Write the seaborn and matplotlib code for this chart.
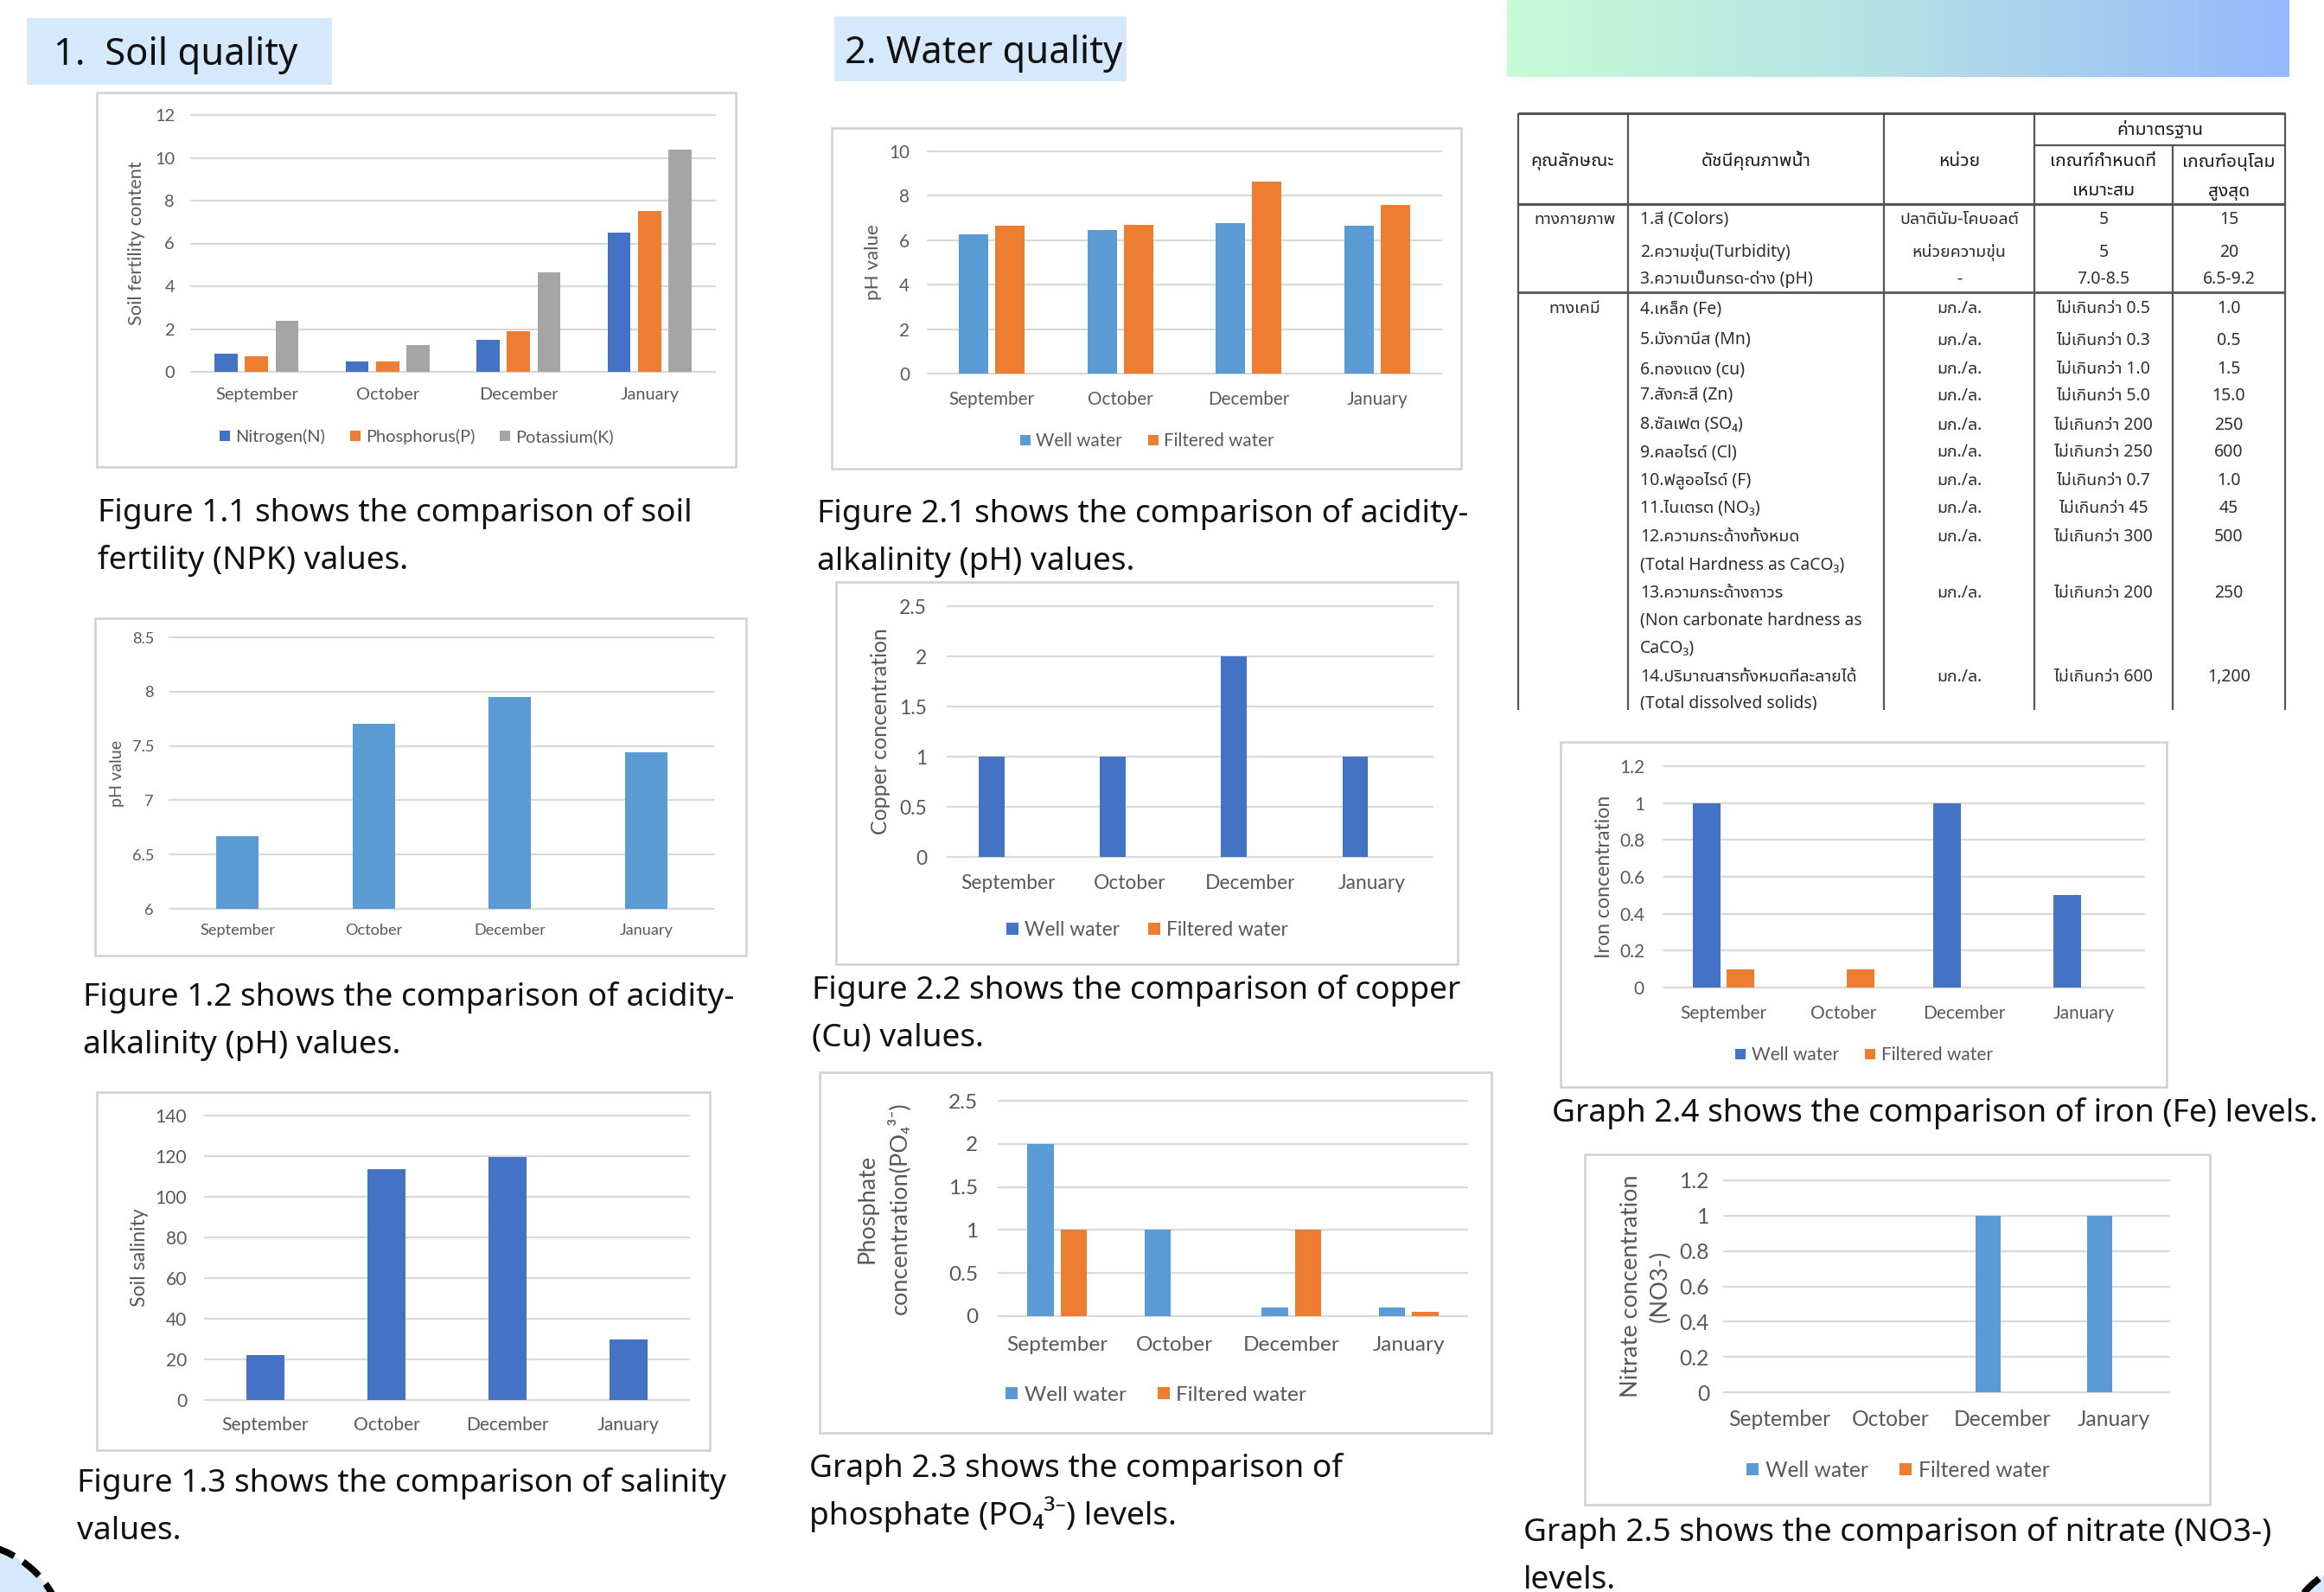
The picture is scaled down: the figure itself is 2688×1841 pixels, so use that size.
import numpy as np
import pandas as pd
import matplotlib
matplotlib.use("Agg")
import matplotlib.pyplot as plt
import seaborn as sns
from matplotlib.patches import Rectangle, Circle
from matplotlib.lines import Line2D
from matplotlib.font_manager import FontProperties, fontManager
from matplotlib.textpath import TextPath

# ---------------- data ----------------
months = ["September", "October", "December", "January"]

npk_series = ["Nitrogen(N)", "Phosphorus(P)", "Potassium(K)"]
nitrogen = [0.85, 0.5, 1.5, 6.5]
phosphorus = [0.72, 0.5, 1.88, 7.5]
potassium = [2.4, 1.25, 4.65, 10.4]

soil_ph = [6.67, 7.7, 7.95, 7.44]
soil_salinity = [22, 113.5, 119.5, 30]

water_series = ["Well water", "Filtered water"]
ph_well = [6.25, 6.47, 6.77, 6.65]
ph_filtered = [6.65, 6.7, 8.65, 7.6]
cu_well = [1, 1, 2, 1]
cu_filtered = [0, 0, 0, 0]
po4_well = [2, 1, 0.1, 0.1]
po4_filtered = [1, 0, 1, 0.05]
fe_well = [1, 0, 1, 0.5]
fe_filtered = [0.1, 0.1, 0, 0]
no3_well = [0, 0, 1, 1]
no3_filtered = [0, 0, 0, 0]

# standards table (Thai)
table_headers = ["คุณลักษณะ", "ดัชนีคุณภาพน้ำ", "หน่วย", "ค่ามาตรฐาน",
                 "เกณฑ์กำหนดที่", "เหมาะสม", "เกณฑ์อนุโลม", "สูงสุด"]
table_groups = ["ทางกายภาพ", "ทางเคมี"]
table_index = ["1.สี (Colors)", "2.ความขุ่น(Turbidity)", "3.ความเป็นกรด-ด่าง (pH)",
               "4.เหล็ก (Fe)", "5.มังกานีส (Mn)", "6.ทองแดง (cu)", "7.สังกะสี (Zn)",
               "8.ซัลเฟต (SO₄)", "9.คลอไรด์ (Cl)", "10.ฟลูออไรด์ (F)", "11.ไนเตรต (NO₃)",
               "12.ความกระด้างทั้งหมด", "(Total Hardness as CaCO₃)",
               "13.ความกระด้างถาวร", "(Non carbonate hardness as", "CaCO₃)",
               "14.ปริมาณสารทั้งหมดที่ละลายได้", "(Total dissolved solids)"]
table_unit = ["ปลาตินัม-โคบอลต์", "หน่วยความขุ่น", "-", "มก./ล.", "มก./ล.", "มก./ล.", "มก./ล.",
              "มก./ล.", "มก./ล.", "มก./ล.", "มก./ล.", "มก./ล.", "", "มก./ล.", "", "", "มก./ล.", ""]
table_suitable = ["5", "5", "7.0-8.5", "ไม่เกินกว่า 0.5", "ไม่เกินกว่า 0.3", "ไม่เกินกว่า 1.0",
                  "ไม่เกินกว่า 5.0", "ไม่เกินกว่า 200", "ไม่เกินกว่า 250", "ไม่เกินกว่า 0.7",
                  "ไม่เกินกว่า 45", "ไม่เกินกว่า 300", "", "ไม่เกินกว่า 200", "", "", "ไม่เกินกว่า 600", ""]
table_max = ["15", "20", "6.5-9.2", "1.0", "0.5", "1.5", "15.0", "250", "600", "1.0", "45",
             "500", "", "250", "", "", "1,200", ""]

# ---------------- setup ----------------
W, H, DPI = 2688, 1841, 100
sns.set_theme(style="white")
CHART_FONT = ["Lato", "DejaVu Sans"]
TEXT_FONT = ["Noto Sans", "DejaVu Sans"]
plt.rcParams["font.family"] = CHART_FONT


def find_thai_font():
    try:
        from fontTools.ttLib import TTFont
    except Exception:
        return None
    cands = []
    for f in fontManager.ttflist:
        try:
            tt = TTFont(f.fname, fontNumber=0, lazy=True)
            cm = tt.getBestCmap()
            if cm and 0x0E01 in cm and 0x0E35 in cm:
                cands.append(f.name)
        except Exception:
            continue
    if not cands:
        return None
    def score(n):
        s = 0
        if "Thai" in n: s -= 4
        if "Noto" in n: s -= 2
        if "Sans" in n: s -= 1
        if "Looped" in n or "Mono" in n: s += 3
        return s
    return sorted(set(cands), key=score)[0]


THAI = find_thai_font()
TABLE_FONT = ["Noto Sans"] + ([THAI] if THAI else []) + ["DejaVu Sans"]


def fit(text, target_px, family):
    fp = FontProperties(family=family, size=100)
    ext = TextPath((0, 0), text, prop=fp).get_extents()
    return 100.0 * target_px / (ext.width * DPI / 72.0)


fig = plt.figure(figsize=(W / DPI, H / DPI), dpi=DPI)
fig.patch.set_facecolor("white")


def px_axes(x0, y0, x1, y1):
    return fig.add_axes([x0 / W, 1 - y1 / H, (x1 - x0) / W, (y1 - y0) / H])


bg = px_axes(0, 0, W, H)
bg.set_zorder(0)
bg.axis("off")

# ---------------- decorations ----------------
HEAD_BG = "#d6e8fc"
bg.add_patch(Rectangle((31, 21), 353, 77, fc=HEAD_BG, ec="none"))
bg.add_patch(Rectangle((965, 19), 338, 75, fc=HEAD_BG, ec="none"))
hs = fit("1.  Soil quality", 278, TEXT_FONT)
em = hs * DPI / 72
bg.text(62, 59 + 0.357 * em, "1.  Soil quality", fontsize=hs, family=TEXT_FONT,
        color="#111111", ha="left", va="baseline")
bg.text(977, 57 + 0.357 * em, "2. Water quality", fontsize=hs, family=TEXT_FONT,
        color="#111111", ha="left", va="baseline")

g = np.linspace(0, 1, 256)[:, None]
c0 = np.array([200, 251, 215]) / 255
c1 = np.array([181, 224, 230]) / 255
c2 = np.array([149, 185, 251]) / 255
rgb = np.where(g < 0.5, c0 + (c1 - c0) * (g / 0.5), c1 + (c2 - c1) * ((g - 0.5) / 0.5))
bg.imshow(rgb[None, :, :], extent=(1743, 2648, 89, 0), aspect="auto",
          interpolation="bilinear", zorder=1)

dash = (0, (3.2, 1.6))
bg.add_patch(Circle((-42, 1902), 118, fc=HEAD_BG, ec="black", lw=5.5, ls=dash, zorder=5))
bg.add_patch(Circle((2752, 1917), 115, fc=HEAD_BG, ec="black", lw=5.5, ls=dash, zorder=5))

# captions
cap_size = fit("Figure 1.1 shows the comparison of soil", 682, TEXT_FONT)
cap_em = cap_size * DPI / 72
captions = [
    (113, [590, 645], ["Figure 1.1 shows the comparison of soil", "fertility (NPK) values."]),
    (96, [1150, 1205], ["Figure 1.2 shows the comparison of acidity-", "alkalinity (pH) values."]),
    (89, [1712, 1767], ["Figure 1.3 shows the comparison of salinity", "values."]),
    (945, [591, 646], ["Figure 2.1 shows the comparison of acidity-", "alkalinity (pH) values."]),
    (939, [1142, 1197], ["Figure 2.2 shows the comparison of copper", "(Cu) values."]),
    (936, [1695, 1750], ["Graph 2.3 shows the comparison of", "phosphate (PO₄³⁻) levels."]),
    (1795, [1284], ["Graph 2.4 shows the comparison of iron (Fe) levels."]),
    (1762, [1769, 1824], ["Graph 2.5 shows the comparison of nitrate (NO3-)", "levels."]),
]
for x, ys, lines in captions:
    for y, s in zip(ys, lines):
        bg.text(x, y + 0.357 * cap_em, s, fontsize=cap_size, family=TEXT_FONT,
                color="#111111", ha="left", va="baseline")

bg.set_xlim(0, W)
bg.set_ylim(H, 0)

# ---------------- charts ----------------
BLUE, LBLUE, ORANGE, GREY = "#4472c4", "#5b9bd5", "#ed7d31", "#a5a5a5"
TICK_C = "#595959"
GRID_C = "#d9d9d9"

charts = [
    dict(plot=(221, 133, 827, 430), box=(112, 107, 851, 540),
         series=[nitrogen, phosphorus, potassium], names=npk_series,
         colors=[BLUE, ORANGE, GREY], yticks=np.arange(0, 12.1, 2),
         sep=95, tick_y=458, ytr=202, ylab=[("Soil fertility content", 158)], ylab_px=188,
         legend_y=505, width=0.695, gap=0.24),
    dict(plot=(196, 737, 826, 1051), box=(110, 715, 863, 1105),
         series=[soil_ph], names=["pH"], colors=[LBLUE],
         yticks=np.arange(6, 8.51, 0.5), sep=86, tick_y=1077, ytr=178,
         ylab=[("pH value", 135)], ylab_px=75, legend_y=None, width=0.31, gap=0),
    dict(plot=(237, 1290, 797, 1619), box=(112, 1263, 821, 1677),
         series=[soil_salinity], names=["Salinity"], colors=[BLUE],
         yticks=np.arange(0, 141, 20), sep=100, tick_y=1648, ytr=216,
         ylab=[("Soil salinity", 161)], ylab_px=113, legend_y=None, width=0.32, gap=0),
    dict(plot=(1073, 175, 1667, 432), box=(962, 148, 1690, 542),
         series=[ph_well, ph_filtered], names=water_series, colors=[LBLUE, ORANGE],
         yticks=np.arange(0, 10.1, 2), sep=98, tick_y=462, ytr=1052,
         ylab=[("pH value", 1010)], ylab_px=85, legend_y=510, width=0.566, gap=0.2),
    dict(plot=(1096, 701, 1657, 991), box=(967, 673, 1686, 1115),
         series=[cu_well, cu_filtered], names=water_series, colors=[BLUE, ORANGE],
         yticks=np.arange(0, 2.51, 0.5), sep=108, tick_y=1022, ytr=1072,
         ylab=[("Copper concentration", 1018)], ylab_px=237, legend_y=1075,
         width=0.55, gap=0.23),
    dict(plot=(1155, 1273, 1697, 1522), box=(948, 1240, 1725, 1657),
         series=[po4_well, po4_filtered], names=water_series, colors=[LBLUE, ORANGE],
         yticks=np.arange(0, 2.51, 0.5), sep=116, tick_y=1557, ytr=1131,
         ylab=[("Phosphate", 1003), ("concentration(PO₄³⁻)", 1039)], ylab_px=123,
         legend_y=1613, width=0.57, gap=0.22),
    dict(plot=(1924, 886, 2480, 1142), box=(1805, 858, 2506, 1257),
         series=[fe_well, fe_filtered], names=water_series, colors=[BLUE, ORANGE],
         yticks=np.arange(0, 1.21, 0.2), sep=99, tick_y=1172, ytr=1902,
         ylab=[("Iron concentration", 1855)], ylab_px=185, legend_y=1220,
         width=0.565, gap=0.2),
    dict(plot=(1994, 1365, 2509, 1610), box=(1833, 1335, 2556, 1740),
         series=[no3_well, no3_filtered], names=water_series, colors=[LBLUE, ORANGE],
         yticks=np.arange(0, 1.21, 0.2), sep=117, tick_y=1642, ytr=1977,
         ylab=[("Nitrate concentration", 1886), ("(NO3-)", 1920)], ylab_px=254,
         legend_y=1700, width=0.5, gap=0.1),
]

for c in charts:
    x0, y0, x1, y1 = c["plot"]
    bx0, by0, bx1, by1 = c["box"]
    bg.add_patch(Rectangle((bx0, by0), bx1 - bx0, by1 - by0, fc="white",
                           ec="#d0d0d0", lw=1.8, zorder=0.5))
    ax = px_axes(x0, y0, x1, y1)
    ax.set_zorder(2)
    ax.patch.set_visible(False)
    s = fit("September", c["sep"], CHART_FONT)
    em_px = s * DPI / 72
    if len(c["series"]) == 1:
        sns.barplot(x=months, y=c["series"][0], color=c["colors"][0], width=c["width"],
                    saturation=1, errorbar=None, linewidth=0, ax=ax)
    else:
        n = len(c["names"])
        df = pd.DataFrame({
            "Month": months * n,
            "Series": np.repeat(c["names"], len(months)),
            "Value": np.concatenate([np.asarray(v, float) for v in c["series"]]),
        })
        sns.barplot(data=df, x="Month", y="Value", hue="Series", hue_order=c["names"],
                    palette=dict(zip(c["names"], c["colors"])), width=c["width"],
                    gap=c["gap"], saturation=1, errorbar=None, linewidth=0,
                    legend=False, ax=ax)
    yt = c["yticks"]
    ax.set_xlim(-0.5, 3.5)
    ax.set_ylim(yt[0], yt[-1])
    ax.set_yticks(yt)
    ax.set_yticklabels([f"{round(t, 2):g}" for t in yt])
    ax.set_xlabel("")
    ax.set_ylabel("")
    for sp in ax.spines.values():
        sp.set_visible(False)
    ax.yaxis.grid(True, color=GRID_C, lw=1.6)
    ax.xaxis.grid(False)
    ax.set_axisbelow(True)
    for gl in ax.get_ygridlines():
        gl.set_clip_on(False)
    xpad = max(0.0, (c["tick_y"] - y1 - 0.48 * em_px)) * 72 / DPI
    ypad = (x0 - c["ytr"]) * 72 / DPI
    ax.tick_params(axis="x", length=0, labelsize=s, labelcolor=TICK_C, pad=xpad)
    ax.tick_params(axis="y", length=0, labelsize=s, labelcolor=TICK_C, pad=ypad)
    for lab in ax.get_xticklabels() + ax.get_yticklabels():
        lab.set_family(CHART_FONT)
    ls = fit(c["ylab"][0][0], c["ylab_px"], CHART_FONT)
    for text, xp in c["ylab"]:
        ax.text((xp - x0) / (x1 - x0), 0.5, text, transform=ax.transAxes, rotation=90,
                ha="center", va="center", fontsize=ls, color=TICK_C,
                family=CHART_FONT, clip_on=False)
    if c["legend_y"] is not None:
        handles = [Line2D([], [], marker="s", ls="", color=col, markersize=0.6 * s,
                          markeredgewidth=0) for col in c["colors"]]
        cx = (bx0 + bx1) / 2
        ax.legend(handles, c["names"], loc="center", ncol=len(handles),
                  bbox_to_anchor=(cx / W, 1 - c["legend_y"] / H),
                  bbox_transform=fig.transFigure, frameon=False, fontsize=s,
                  labelcolor=TICK_C, handlelength=0.7, handletextpad=0.25,
                  columnspacing=1.4, borderpad=0, prop={"family": CHART_FONT, "size": s})

# ---------------- table ----------------
tb = px_axes(1740, 100, 2660, 821)
tb.set_zorder(1)
tb.set_xlim(1740, 2660)
tb.set_ylim(821, 100)
tb.axis("off")
LC = "#555555"
TX = "#2e2e2e"


def hline(y, xa, xb, lw=1.6):
    tb.add_line(Line2D([xa, xb], [y, y], color=LC, lw=lw, solid_capstyle="butt"))


def vline(x, ya, yb, lw=1.6):
    tb.add_line(Line2D([x, x], [ya, yb], color=LC, lw=lw, solid_capstyle="butt"))


XL, XC1, XC2, XC3, XC4, XR = 1756, 1883, 2179, 2353, 2513, 2643
hline(131, XL, XR, 2.2)
hline(168, XC3, XR)
hline(236, XL, XR, 2.2)
hline(338, XL, XR, 2.0)
for x in (XL, XC1, XC2, XC3, XR):
    vline(x, 131, 821)
vline(XC4, 168, 821)

ts = fit("(Total Hardness as CaCO3)", 226, TABLE_FONT) * 1.06
hdr_pos = [(1819, 186), (2031, 186), (2266, 186), (2498, 150),
           (2433, 187), (2433, 221), (2578, 187), (2578, 221)]
for (x, y), s in zip(hdr_pos, table_headers):
    tb.text(x, y, s, ha="center", va="center", fontsize=ts * 1.08, color="#1e1e1e",
            family=TABLE_FONT, fontweight="bold", clip_on=True)
for s, y in zip(table_groups, [254, 357]):
    tb.text(1821, y, s, ha="center", va="center", fontsize=ts, color=TX,
            family=TABLE_FONT, clip_on=True)
row_y = [254, 292, 323, 357, 394, 427, 458, 492, 523, 556, 588, 621, 653,
         686, 718, 750, 783, 813]
for i, y in enumerate(row_y):
    tb.text(1897, y, table_index[i], ha="left", va="center", fontsize=ts, color=TX,
            family=TABLE_FONT, clip_on=True)
    for x, col in ((2266, table_unit), (2433, table_suitable), (2578, table_max)):
        if col[i]:
            tb.text(x, y, col[i], ha="center", va="center", fontsize=ts, color=TX,
                    family=TABLE_FONT, clip_on=True)

fig.savefig("out.png", dpi=DPI, facecolor="white")
